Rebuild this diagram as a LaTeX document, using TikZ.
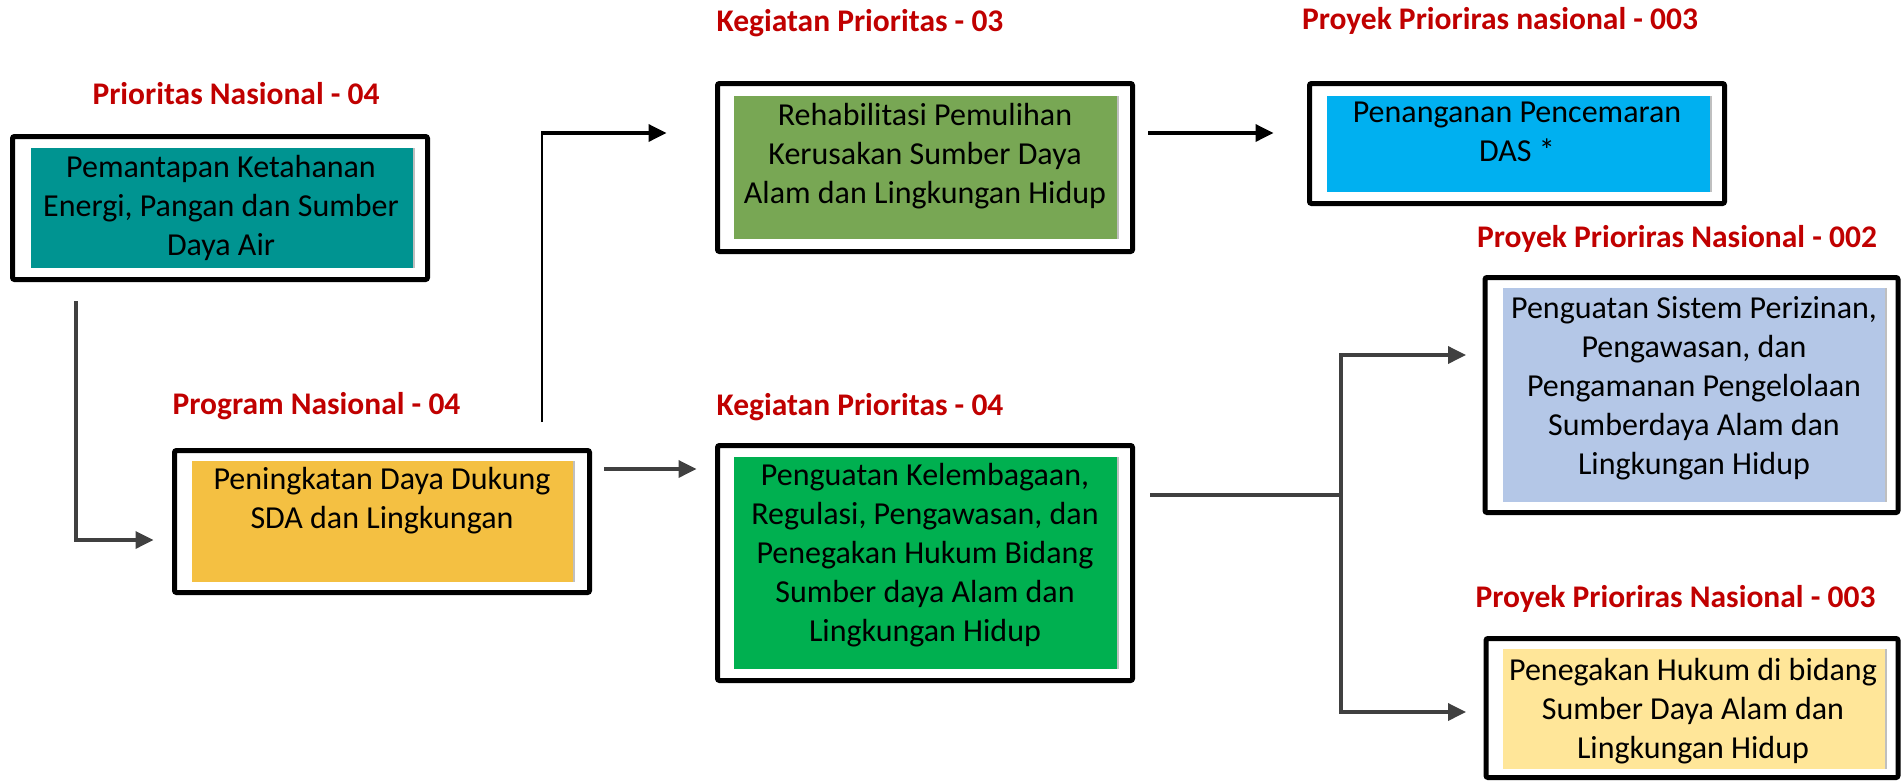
\documentclass[tikz,border=0pt]{standalone}
\usepackage{fontspec}
\setmainfont{Carlito}
\usetikzlibrary{arrows.meta}
\definecolor{teal1}{RGB}{0,148,145}
\definecolor{gold1}{RGB}{244,192,66}
\definecolor{olive1}{RGB}{120,167,84}
\definecolor{sky1}{RGB}{0,176,240}
\definecolor{green1}{RGB}{0,176,80}
\definecolor{lav1}{RGB}{180,199,231}
\definecolor{cream1}{RGB}{255,230,153}
\definecolor{red1}{RGB}{192,0,0}
\definecolor{gray1}{RGB}{64,64,64}
\newcommand\innerfill[5]{%
  \fill[#1] (#2,#3) rectangle (#4,#5);
  \draw[gray!50, line width=2pt] (#4-1,#3) -- (#4-1,#5);}
\begin{document}
\begin{tikzpicture}[x=1pt,y=-1pt,
  frame/.style={draw=black, line width=5pt, rounded corners=2pt, inner sep=0pt},
  body/.style={align=center, font=\fontsize{32}{39}\selectfont, inner sep=0pt,
    execute at begin node=\strut, execute at end node=\strut},
  ttl/.style={anchor=base, text=red1, font=\fontsize{31.5}{38}\selectfont\bfseries, inner sep=0pt},
  gline/.style={draw=gray1, line width=3.5pt},
  garr/.style={gline, -{Triangle[length=18pt,width=17pt]}},
  barr/.style={draw=black, line width=3.5pt, -{Triangle[length=18pt,width=17pt]}}
]
\useasboundingbox (0,0) rectangle (1902,780);

% ---- frames
\node[frame, minimum width=415pt, minimum height=143pt] (b1) at (220,208) {};
\node[frame, minimum width=415pt, minimum height=142pt] (b2) at (382,521.5) {};
\node[frame, minimum width=415pt, minimum height=168pt] (b3) at (925,167.5) {};
\node[frame, minimum width=415pt, minimum height=120pt] (b4) at (1517,143.5) {};
\node[frame, minimum width=415pt, minimum height=235pt] (b5) at (925,563) {};
\node[frame, minimum width=413pt, minimum height=235pt] (b6) at (1691.5,395) {};
\node[frame, minimum width=412pt, minimum height=139pt] (b7) at (1692,708) {};

% ---- inner fills
\innerfill{teal1}{31}{148}{415}{268}
\innerfill{gold1}{192}{461}{575}{582}
\innerfill{olive1}{734}{96}{1119}{239}
\innerfill{sky1}{1327}{96}{1712}{192}
\innerfill{green1}{734}{457}{1119}{669}
\innerfill{lav1}{1503}{288}{1887}{502}
\innerfill{cream1}{1503}{649}{1887}{769}

% ---- texts
\node[body] (x1) at (221,211.5) {Pemantapan Ketahanan\\Energi, Pangan dan Sumber\\Daya Air};
\node[body] (x2) at (382,504) {Peningkatan Daya Dukung\\SDA dan Lingkungan};
\node[body] (x3) at (925,159) {Rehabilitasi Pemulihan\\Kerusakan Sumber Daya\\Alam dan Lingkungan Hidup};
\node[body] (x4) at (1517,137.5) {Penanganan Pencemaran\\DAS *};
\node[body] (x5) at (925,558) {Penguatan Kelembagaan,\\Regulasi, Pengawasan, dan\\Penegakan Hukum Bidang\\Sumber daya Alam dan\\Lingkungan Hidup};
\node[body] (x6) at (1694,391) {Penguatan Sistem Perizinan,\\Pengawasan, dan\\Pengamanan Pengelolaan\\Sumberdaya Alam dan\\Lingkungan Hidup};
\node[body] (x7) at (1693,714) {Penegakan Hukum di bidang\\Sumber Daya Alam dan\\Lingkungan Hidup};

% ---- titles
\node[ttl] (t1) at (236,104) {Prioritas Nasional - 04};
\node[ttl] (t2) at (316.5,414) {Program Nasional - 04};
\node[ttl] (t3) at (860,31) {Kegiatan Prioritas - 03};
\node[ttl] (t4) at (1500,29) {Proyek Prioriras nasional - 003};
\node[ttl] (t5) at (860,415) {Kegiatan Prioritas - 04};
\node[ttl] (t6) at (1677,247) {Proyek Prioriras Nasional - 002};
\node[ttl] (t7) at (1675.5,607) {Proyek Prioriras Nasional - 003};

% ---- connectors
\coordinate (c1) at (76,301);
\coordinate (c1b) at (76,540);
\draw[garr, shorten >=18.5pt] (c1) -- (c1b) -- (c1b -| b2.west);

\coordinate (c2) at (604,469);
\draw[garr, shorten >=18.5pt] (c2) -- (c2 -| b5.west);

\coordinate (c3) at (542,422);
\coordinate (c3b) at (542,133);
\draw[black, line width=1.5pt] (c3) -- (c3b);
\draw[barr, shorten >=48.5pt] ([xshift=-0.75pt]c3b) -- (c3b -| b3.west);

\coordinate (c4) at (1148,133);
\draw[barr, shorten >=33.5pt] (c4) -- (c4 -| b4.west);

\coordinate (c5) at (1150,495);
\coordinate (fk) at (1341,495);
\coordinate (fu) at (1341,355);
\coordinate (fd) at (1341,712);
\draw[gline] (c5) -- (fk);
\draw[gline] ([yshift=1.75pt]fu) -- ([yshift=-1.75pt]fd);
\draw[garr, shorten >=16.5pt] (fu) -- (fu -| b6.west);
\draw[garr, shorten >=17.5pt] (fd) -- (fd -| b7.west);
\end{tikzpicture}
\end{document}
